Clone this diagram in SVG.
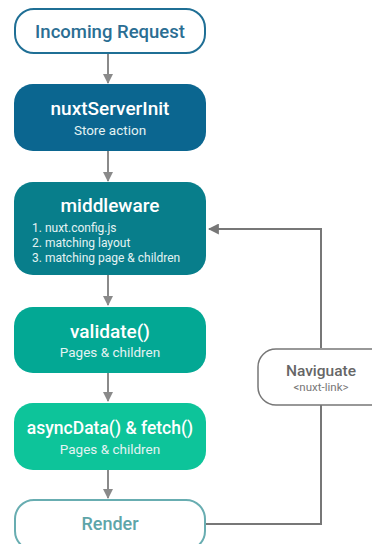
<svg xmlns="http://www.w3.org/2000/svg" width="372" height="544" viewBox="0 0 372 544">
  <style>
    text { font-family: Roboto, "Liberation Sans", sans-serif; }
    .title { font-size: 19px; font-weight: 500; text-anchor: middle; fill: #ffffff; }
    .sub { font-size: 13.5px; text-anchor: middle; fill: #e4f3f3; }
    .list { font-size: 12px; fill: #e4f3f3; }
    .edge { fill: none; stroke: #8a8a8a; stroke-width: 2; }
    .loop { fill: none; stroke: #777777; stroke-width: 2; }
  </style>
  <defs>
    <marker id="arrow" viewBox="0 0 10 10" refX="9" refY="5" markerWidth="10" markerHeight="10" markerUnits="userSpaceOnUse" orient="auto">
      <path d="M0,0 L10,5 L0,10 z" fill="#8a8a8a"/>
    </marker>
    <marker id="arrowDark" viewBox="0 0 10 10" refX="9" refY="5" markerWidth="11" markerHeight="11" markerUnits="userSpaceOnUse" orient="auto">
      <path d="M0,0 L10,5 L0,10 z" fill="#777777"/>
    </marker>
  </defs>

  <g id="connectors">
    <line class="edge" x1="108" y1="54" x2="108" y2="83" marker-end="url(#arrow)"/>
    <line class="edge" x1="108" y1="151" x2="108" y2="181" marker-end="url(#arrow)"/>
    <line class="edge" x1="108" y1="275" x2="108" y2="305" marker-end="url(#arrow)"/>
    <line class="edge" x1="108" y1="373" x2="108" y2="401" marker-end="url(#arrow)"/>
    <line class="edge" x1="108" y1="470" x2="108" y2="498" marker-end="url(#arrow)"/>
    <polyline class="loop" points="206,524 321,524 321,405"/>
    <polyline class="loop" points="321,348 321,229 209,229" marker-end="url(#arrowDark)"/>
  </g>

  <g id="incoming-request">
    <rect x="15" y="9" width="190" height="44" rx="19" fill="#ffffff" stroke="#1f6f95" stroke-width="2"/>
    <text x="110" y="38" class="title" style="font-size:18.5px;fill:#2b6e93">Incoming Request</text>
  </g>

  <g id="nuxt-server-init">
    <rect x="14" y="84" width="192" height="67" rx="19" fill="#0b6690"/>
    <text x="110" y="115" class="title">nuxtServerInit</text>
    <text x="110" y="135" class="sub">Store action</text>
  </g>

  <g id="middleware">
    <rect x="14" y="182" width="192" height="93" rx="19" fill="#087e8b"/>
    <text x="110" y="212" class="title">middleware</text>
    <text x="32" y="232" class="list">1. nuxt.config.js</text>
    <text x="32" y="247" class="list">2. matching layout</text>
    <text x="32" y="262" class="list">3. matching page &amp; children</text>
  </g>

  <g id="validate">
    <rect x="14" y="307" width="192" height="66" rx="19" fill="#03a894"/>
    <text x="110" y="338" class="title">validate()</text>
    <text x="110" y="357" class="sub">Pages &amp; children</text>
  </g>

  <g id="async-data-fetch">
    <rect x="14" y="403" width="192" height="67" rx="19" fill="#0dc49a"/>
    <text x="110" y="434" class="title" style="font-size:17.5px">asyncData() &amp; fetch()</text>
    <text x="110" y="454" class="sub">Pages &amp; children</text>
  </g>

  <g id="render">
    <rect x="15" y="500" width="190" height="50" rx="19" fill="#ffffff" stroke="#68adb1" stroke-width="2"/>
    <text x="110" y="530" class="title" style="font-size:18px;fill:#5ea5a9">Render</text>
  </g>

  <g id="naviguate">
    <rect x="258" y="349" width="130" height="56" rx="18" fill="#ffffff" stroke="#777777" stroke-width="1.5"/>
    <text x="321" y="376" style="font-size:15.5px;font-weight:500;text-anchor:middle;fill:#666666">Naviguate</text>
    <text x="321" y="391" style="font-size:11.5px;text-anchor:middle;fill:#777777">&lt;nuxt-link&gt;</text>
  </g>
</svg>
